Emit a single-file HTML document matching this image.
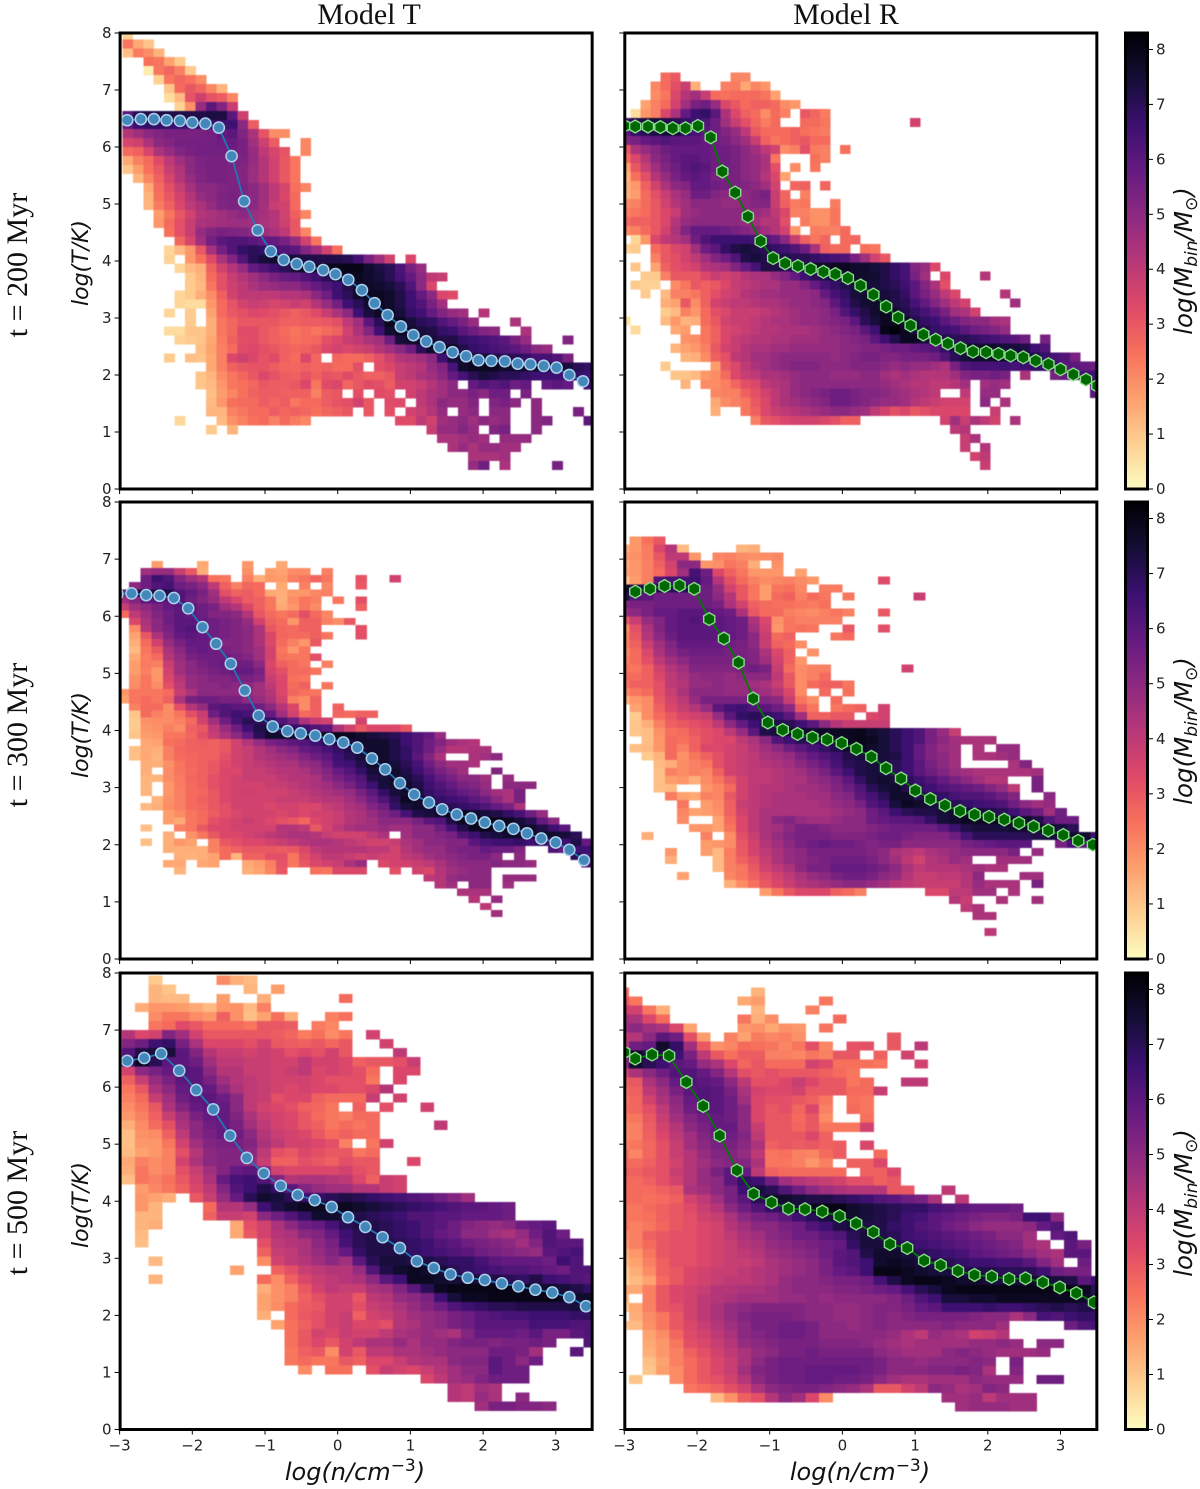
<!DOCTYPE html>
<html lang="en">
<head>
<meta charset="utf-8">
<title>Phase diagrams: Model T and Model R</title>
<style>
html,body{margin:0;padding:0;background:#fff;width:1200px;height:1489px;overflow:hidden}
svg{display:block}
.tick{font:15px "DejaVu Sans",sans-serif;fill:#222}
.serif{font-family:"Liberation Serif",serif;fill:#111}
.math{font-family:"DejaVu Sans",sans-serif;font-style:italic;fill:#111}
</style>
</head>
<body>
<svg id="fig" xmlns="http://www.w3.org/2000/svg" width="1200" height="1489" viewBox="0 0 1200 1489">
<defs>
<filter id="soft" x="-2%" y="-2%" width="104%" height="104%" color-interpolation-filters="sRGB"><feGaussianBlur stdDeviation="0.45"/></filter>
<linearGradient id="cbGrad" x1="0" y1="1" x2="0" y2="0">
<stop offset="0" stop-color="#fcfdbf"/><stop offset=".1" stop-color="#fecf92"/><stop offset=".2" stop-color="#fe9f6d"/><stop offset=".3" stop-color="#f7705c"/><stop offset=".4" stop-color="#de4968"/><stop offset=".5" stop-color="#b73779"/><stop offset=".6" stop-color="#8c2981"/><stop offset=".7" stop-color="#641a80"/><stop offset=".8" stop-color="#3b0f70"/><stop offset=".9" stop-color="#140e36"/><stop offset="1" stop-color="#000004"/>
</linearGradient>
</defs>
<text class="serif" x="369" y="24" font-size="30" text-anchor="middle">Model T</text>
<text class="serif" x="846" y="24" font-size="30" text-anchor="middle">Model R</text>
<text class="serif" transform="translate(27,265) rotate(-90)" font-size="30" text-anchor="middle">t = 200 Myr</text>
<text class="serif" transform="translate(27,735) rotate(-90)" font-size="30" text-anchor="middle">t = 300 Myr</text>
<text class="serif" transform="translate(27,1203) rotate(-90)" font-size="30" text-anchor="middle">t = 500 Myr</text>
<text class="math" transform="translate(88,263) rotate(-90)" font-size="22" text-anchor="middle">log(T/K)</text>
<text class="math" transform="translate(88,735) rotate(-90)" font-size="22" text-anchor="middle">log(T/K)</text>
<text class="math" transform="translate(88,1205) rotate(-90)" font-size="22" text-anchor="middle">log(T/K)</text>
<text class="math" x="355" y="1480" font-size="24" text-anchor="middle">log(n/cm<tspan dy="-9" font-size="17" font-style="normal">−3</tspan><tspan dy="9">)</tspan></text>
<text class="math" x="860" y="1480" font-size="24" text-anchor="middle">log(n/cm<tspan dy="-9" font-size="17" font-style="normal">−3</tspan><tspan dy="9">)</tspan></text>
<text class="math" transform="translate(1192,261) rotate(-90)" font-size="24.5" text-anchor="middle">log(M<tspan dy="5" font-size="17">bin</tspan><tspan dy="-5">/M</tspan><tspan dy="5" font-size="17" font-style="normal">⊙</tspan><tspan dy="-5">)</tspan></text>
<text class="math" transform="translate(1192,731) rotate(-90)" font-size="24.5" text-anchor="middle">log(M<tspan dy="5" font-size="17">bin</tspan><tspan dy="-5">/M</tspan><tspan dy="5" font-size="17" font-style="normal">⊙</tspan><tspan dy="-5">)</tspan></text>
<text class="math" transform="translate(1192,1203) rotate(-90)" font-size="24.5" text-anchor="middle">log(M<tspan dy="5" font-size="17">bin</tspan><tspan dy="-5">/M</tspan><tspan dy="5" font-size="17" font-style="normal">⊙</tspan><tspan dy="-5">)</tspan></text>
</svg>
<script>
const xTickLabels = [-3,-2,-1,0,1,2,3];
const yTickLabels = [0,1,2,3,4,5,6,7,8];
const cbTickLabels = [0,1,2,3,4,5,6,7,8];
const cbMax = 8.3;

// Heatmap rows, top to bottom: [first column index, cell values...]. Values are log(M) x 10; 0 = empty bin.
const heatT200 = [
[0,8],[0,24,15,10],[0,11,23,20,13],[2,25,24,16,9],[2,3,24,27,22,9],[3,8,24,27,25,20],[4,10,26,30,27,21,13],
[4,6,12,31,37,31,29,21],[5,8,19,48,60,52,38],[0,60,70,72,72,72,72,72,72,73,73,60,37],[0,58,66,68,68,67,66,66,67,67,66,66,50,29],
[0,42,46,50,52,54,54,54,54,55,58,60,52,44,31,20,20],[0,35,37,44,50,52,55,55,55,55,56,57,54,46,37,29,0,0,21],
[0,26,28,35,44,48,52,54,55,55,55,56,54,48,40,35,31,0,21],[0,15,22,26,33,40,46,50,53,54,54,53,53,48,42,36,30,24],
[0,10,17,25,30,38,43,50,53,54,54,53,52,47,42,36,30,24],[1,13,21,28,35,42,48,52,54,54,53,52,47,42,36,30,24],
[2,15,26,32,38,45,50,50,52,53,53,50,46,40,35,25,21],[2,13,25,30,36,42,48,50,53,54,53,50,46,40,34,26],
[2,13,23,28,34,40,44,48,52,53,52,50,45,38,36,26],[3,17,24,30,36,42,44,46,48,50,47,45,42,36,28,21],
[3,18,26,32,38,44,45,46,47,47,46,44,42,37,30],[4,25,32,38,48,52,54,53,52,50,47,44,40,30,21],
[5,27,35,46,55,60,62,62,60,58,58,54,48,36,24],[4,7,12,18,30,45,55,62,68,70,68,64,62,60,52,46,36,25],
[4,8,0,18,25,33,44,52,62,70,74,76,75,74,73,72,72,72,70,65,54,46,36,0,34],
[5,7,12,14,28,36,42,48,58,62,66,70,74,76,76,78,79,80,80,76,73,70,63,54,48],
[6,9,13,26,32,38,42,46,50,54,57,58,62,66,70,75,77,78,76,74,70,64,58,50,40,38],
[6,9,12,24,32,37,40,44,47,48,50,50,54,58,62,66,72,76,77,76,74,70,62,50,34],
[5,7,9,14,20,28,36,40,40,40,40,42,42,44,50,56,66,70,76,78,78,76,72,66,58,50,34,33],
[5,7,6,6,18,26,31,36,38,37,35,36,38,36,42,48,55,66,70,76,78,76,72,66,62,54,46],
[4,7,0,9,0,16,26,30,32,34,33,32,30,28,30,33,38,44,50,66,74,77,78,74,68,65,58,52,48,46,0,42],
[6,9,0,14,24,27,30,30,30,30,28,28,29,29,30,32,40,46,60,70,79,78,74,70,68,62,58,54,48,0,0,0,44],
[4,6,6,10,10,14,24,27,33,33,30,28,26,24,26,24,26,28,36,44,52,66,76,78,76,74,72,68,66,60,56,52,50,0,0,44],
[5,8,9,10,15,23,28,32,33,30,28,27,25,26,27,32,34,38,40,44,46,56,74,76,76,74,72,72,68,66,64,62,60,54,48,0,0,0,52],
[7,11,16,22,26,33,34,32,30,28,27,28,30,34,36,34,36,38,42,46,50,56,70,76,78,78,72,68,66,64,62,60,56,50,48],
[4,9,0,11,10,15,22,34,37,34,31,33,28,26,34,27,0,27,26,26,28,32,37,42,44,46,50,66,74,76,76,74,72,70,70,68,64,64,62,54],
[8,15,22,28,30,31,31,29,27,27,28,27,28,26,26,32,0,32,34,38,40,42,48,52,64,76,78,78,78,76,76,76,76,74,74,74,70,68],
[7,10,13,20,24,27,30,34,31,29,28,31,28,31,30,33,30,28,28,30,38,40,44,46,50,58,64,70,74,72,70,70,68,66,66,66,64,68,66],
[7,10,12,18,24,25,27,30,29,29,30,34,24,33,34,27,30,33,32,29,36,36,38,42,46,50,0,58,62,60,62,56,58,0,58,60,58,0,64],
[8,11,17,21,25,28,29,29,28,28,28,22,29,30,0,32,0,33,32,0,36,40,44,46,50,50,54,50,56,56,0,54],
[8,12,18,25,26,26,29,27,29,24,26,26,29,31,32,36,30,0,33,33,0,40,44,50,48,48,52,0,52,54,50,0,50],
[8,13,13,22,24,26,26,29,27,28,27,25,27,28,30,0,30,0,32,0,36,38,42,48,0,48,50,0,50,50,0,0,50,0,0,0,54],
[5,7,0,0,0,12,19,22,25,26,22,26,23,21,0,0,0,0,0,0,0,0,33,33,40,36,46,48,50,46,50,48,50,0,0,50,52,0,0,0,60],
[8,9,0,13,0,0,0,0,0,0,0,0,0,0,0,0,0,0,0,0,0,0,38,48,48,52,48,0,52,54,0,0,50],
[30,44,44,46,48,46,0,48,48,48],[31,44,48,44,48,48,46,46],[33,44,44,44,46],[33,48,56,0,44,0,0,0,0,54]
];
const heatR200 = [
[4,26,30,0,0,0,0,0,21,21],[3,21,26,32,38,14,0,0,22,23,15,21,18],[3,20,24,34,42,46,38,26,25,26,26,26,24,16],
[2,16,22,26,36,46,54,56,48,34,30,26,28,28,26,20,18],[1,6,18,22,34,44,58,66,68,60,44,34,28,26,20,26,22,0,30,27,23],
[0,66,72,73,74,72,70,68,66,62,56,46,38,32,27,23,26,0,0,26,26,24,0,0,0,0,0,0,0,0,36],
[0,60,68,70,72,74,74,68,64,60,56,52,48,40,30,26,26,26,28,25,24,23],[0,52,54,58,60,62,60,60,60,58,56,54,50,46,38,28,24,26,28,30,26,26],
[0,30,44,48,52,56,58,58,58,58,56,56,54,50,46,40,36,20,22,32,23,22,0,25],[0,26,34,42,50,54,58,60,60,58,56,56,54,50,48,44,24,0,0,0,25,22],
[0,16,30,38,46,52,56,60,62,60,56,56,54,50,48,44,32,0,20,0,24],[0,13,25,32,42,48,54,58,60,58,54,54,54,50,48,42,34,16],
[0,14,18,28,36,44,50,52,58,58,56,54,54,52,50,46,36,0,27,28,0,27],[0,14,17,26,32,38,44,48,56,56,52,50,50,50,52,54,38,27,0,22],
[0,20,22,26,30,36,42,46,50,50,50,48,48,50,52,52,38,28,23,24,0,0,23],[0,22,24,26,30,34,38,46,48,50,50,50,50,50,48,46,40,34,22,22,19,19,24],
[0,26,28,28,30,34,42,48,50,50,50,50,50,48,46,42,42,32,0,23,19,19,24],[0,20,22,26,30,36,44,52,58,58,58,56,54,52,50,46,42,36,18,0,23,22,22,26],
[1,7,18,34,40,42,46,56,62,66,66,66,66,64,62,58,50,38,28,24,27,0,26,27],[0,8,9,0,26,30,34,36,46,56,60,68,72,74,72,70,68,66,62,56,44,28,26,26,0,25,24],
[3,22,30,32,36,40,46,52,56,62,72,74,72,72,72,70,70,68,66,64,62,54,46,36,30],
[1,10,0,16,28,32,34,36,42,44,46,52,58,64,72,72,70,72,74,76,76,78,78,76,76,74,72,68,64,52,48,34],
[2,9,9,22,30,30,30,34,38,36,38,42,44,44,48,52,58,66,70,72,74,74,76,76,75,72,68,64,54,46,0,34,0,0,0,42],
[1,9,8,8,0,20,24,30,28,30,34,38,40,42,44,44,48,48,52,58,64,68,72,74,74,74,72,70,66,60,52,44,32],
[2,9,0,12,22,22,24,28,32,36,38,42,44,46,46,48,48,48,50,58,64,68,74,75,76,74,72,68,60,54,48,40,34,0,0,0,0,42],
[4,14,16,30,20,28,36,38,40,40,42,44,44,46,48,48,50,52,60,66,72,75,76,76,72,70,64,58,52,46,40,36,0,0,0,0,46],
[4,9,12,22,18,26,32,34,38,38,38,40,42,44,46,48,48,50,54,62,68,72,76,78,76,72,68,64,60,54,46,44,36],
[0,5,0,0,0,12,18,13,14,26,30,36,38,38,40,42,44,44,46,48,48,50,52,54,60,70,74,78,78,76,72,68,66,60,56,52,50,50,46,44],
[1,6,0,0,0,15,17,0,24,28,34,36,38,40,42,42,44,44,44,46,48,50,52,54,60,66,80,82,78,74,72,68,66,64,60,56,54,52,48],
[6,19,20,24,28,34,38,40,42,42,44,44,46,46,46,48,48,50,52,54,60,66,72,78,78,74,74,72,70,70,68,66,64,62,60,56,0,54],
[5,13,16,18,22,30,36,38,42,44,44,46,46,48,48,48,48,48,50,50,52,52,54,56,56,58,60,62,68,72,74,76,76,76,74,74,72,66,62],
[6,13,14,20,28,32,40,42,46,46,48,50,50,50,50,50,48,50,52,54,54,52,52,54,54,54,56,62,70,74,76,76,76,76,76,74,72,68,64,62,54],
[4,9,0,0,0,0,17,30,34,40,44,46,48,50,52,52,52,50,50,50,52,52,52,50,48,50,48,48,46,44,54,62,64,64,64,66,64,66,68,66,64,60,60,58,56],
[5,10,10,12,18,20,26,34,38,40,44,44,46,48,50,50,50,48,48,48,50,50,46,44,46,44,42,42,42,46,52,54,54,56,54,0,44,0,0,54,58,62,64,66],
[6,13,0,20,20,22,27,32,34,40,42,44,48,50,50,50,50,50,50,50,50,48,46,44,42,42,40,40,42,46,0,46,48,46,0,0,0,0,0,0,0,0,64],
[9,21,22,22,28,32,36,40,44,48,50,52,54,56,56,54,52,52,50,48,46,44,42,40,0,0,40,0,48,48,0,0,0,0,0,0,0,0,0,60],
[9,15,20,22,24,30,34,40,44,46,48,50,52,56,56,54,52,50,48,48,46,42,40,38,36,36,36,0,50,0,44],
[9,14,0,0,24,28,34,38,40,42,44,46,48,50,50,48,46,40,36,32,34,30,32,34,34,34,34,0,0,38],
[13,22,30,32,34,36,36,36,34,32,28,28,0,0,0,0,0,0,0,0,36,46,38,44,40,36,0,44],
[33,40,42],[34,38,44],[34,38,0,42],[35,36,40],[36,38]
];
const heatT300 = [
[3,17,0,0,0,15,0,0,0,18,0,0,15],[2,46,48,48,38,30,14,0,0,0,19,0,17,16,20,20,0,22],
[2,56,66,62,52,46,42,25,24,0,22,14,18,17,22,24,27,24,0,0,31,0,0,36],[1,50,56,62,64,56,54,50,40,28,22,27,26,0,15,0,22,0,21,0,0,30],
[0,58,72,74,74,72,62,58,54,46,32,28,29,26,15,14,18,18,21,22],[0,46,52,60,60,60,62,56,52,48,40,34,29,28,24,14,20,24,22,0,24,0,32],
[0,38,46,50,54,58,60,60,56,54,46,42,34,28,24,15,18,24,20,0,0,0,28],[0,26,40,46,52,56,60,58,56,52,52,50,42,30,26,24,26,32,26,21],
[1,34,44,50,56,60,60,58,56,54,52,48,36,28,26,18,28,28,22,20,30],[1,20,42,50,54,60,62,58,56,54,52,50,44,30,27,26,28,28,0,0,0,32],
[1,16,30,44,52,58,60,58,56,54,52,50,44,34,27,26,26,28,24,0,0,32],[1,14,26,36,48,54,58,58,56,52,52,50,44,34,26,22,18,30],
[1,12,24,30,44,50,56,58,56,54,52,50,46,36,24,18,24],[1,15,23,26,42,48,54,56,56,56,54,52,46,36,25,24,24,32],
[1,17,23,22,38,46,50,54,56,58,56,56,50,34,28,26,24,0,22],[1,17,22,18,36,46,50,52,54,56,58,58,54,36,32,26,26,24],
[1,19,24,18,34,42,48,50,52,52,54,54,52,38,34,25,24],[1,20,24,20,32,40,48,50,50,52,50,50,46,40,34,26,28,0,24],
[0,18,24,24,24,26,38,44,50,50,50,50,48,46,42,34,27,25,24],[0,16,24,26,24,28,44,54,56,56,54,54,50,48,44,36,22,20,28],
[1,22,26,26,20,32,42,48,60,62,60,60,56,50,42,34,20,28,0,28],[1,10,26,22,20,24,32,38,56,62,66,64,62,58,46,36,26,28,0,27,26,28,28],
[1,9,19,20,20,22,26,36,46,56,64,70,70,68,62,56,44,38,36,0,0,36],[1,9,18,19,22,20,28,30,40,48,56,66,72,74,70,68,66,62,60,44,36,30,34,34,34,30],
[1,10,17,18,24,24,27,32,38,44,50,58,70,76,76,76,76,78,78,78,78,76,74,72,70,66,62,58,48],
[2,15,16,25,26,28,29,28,30,36,42,48,54,56,60,62,66,70,72,74,76,76,76,72,66,62,56,52,46,44,42],
[1,11,15,14,22,27,28,28,28,30,36,38,42,46,50,52,58,60,64,68,72,74,76,76,72,68,62,56,48,42,42,44,44],
[1,11,15,13,22,26,27,28,28,32,36,38,42,44,46,48,52,56,60,66,70,74,76,76,72,68,60,52,44,0,0,44,46,50],
[2,14,14,19,24,27,28,30,33,36,38,40,42,44,44,48,50,56,64,66,72,76,76,74,70,64,56,50,46,46,44],
[2,14,0,20,24,26,28,30,34,34,38,38,40,42,42,44,48,52,58,62,68,74,76,76,72,66,60,54,50,46,0,0,52],
[2,13,13,20,23,27,28,32,34,36,38,38,38,40,42,42,44,50,54,58,62,72,74,76,74,70,64,58,54,50,50,46,0,48],
[2,13,0,18,23,26,28,32,34,36,36,36,38,38,40,42,44,46,50,54,60,66,74,76,76,72,66,62,58,54,52,48,0,50,50,50],
[2,13,0,18,22,26,27,30,34,36,37,36,36,36,38,40,42,44,46,48,54,60,68,74,76,74,68,64,62,58,56,50,46,44,54],
[3,13,19,22,26,28,30,34,36,36,36,36,38,38,38,40,42,42,46,50,56,62,70,78,76,72,68,66,64,60,56,50,44,54],
[2,12,14,20,22,26,27,30,32,36,36,36,34,36,36,34,34,38,40,44,46,52,56,68,74,76,74,72,70,68,66,62,58,54,44],
[4,17,20,24,26,29,32,34,36,36,36,34,36,34,36,36,38,42,44,48,52,56,64,72,74,76,78,78,76,74,72,68,64,56,48],
[4,17,15,24,26,32,34,36,38,36,34,32,30,27,34,36,38,42,44,46,50,50,50,54,60,62,72,78,80,80,80,78,74,70,58,50],
[2,11,0,0,22,24,30,34,34,36,36,36,36,42,42,40,30,36,40,44,46,46,48,46,46,50,50,56,64,72,78,80,78,78,76,76,72,66,60],
[4,14,0,19,24,30,34,34,36,38,40,42,44,44,42,38,36,36,36,40,44,0,46,50,50,52,54,62,66,72,74,76,76,76,76,76,74,70],
[2,11,0,14,18,16,0,22,30,32,34,34,36,38,40,42,44,44,42,40,38,36,36,38,44,46,50,50,52,52,60,64,66,66,68,66,68,66,66,72,58],
[4,14,14,14,14,22,26,28,30,30,30,29,30,34,40,42,42,42,42,40,40,36,42,46,48,48,52,54,54,58,56,56,52,0,0,62,58,66,66],
[5,14,13,14,16,26,13,28,28,32,32,24,32,36,40,40,38,36,38,36,36,40,42,46,48,50,52,54,54,50,0,50,0,0,0,0,70,64],
[4,15,15,0,15,16,0,0,15,17,22,31,24,30,34,36,38,44,48,0,34,36,36,38,40,44,48,50,50,50,52,50,50,48,0,0,0,0,62],
[5,13,0,0,0,0,0,14,16,21,30,0,0,25,24,34,34,34,0,0,32,0,36,34,42,46,48,50,50],
[27,40,42,48,50,50,50,0,48,48,48],[28,42,46,0,50,50,0,46],[30,44,44,44],[31,42,0,48],[32,40],[33,46]
];
const heatR300 = [
[1,18,25,30],[0,14,18,23,34,42,12,0,0,0,0,13,14],[0,17,19,23,30,40,40,18,0,21,22,20,19,20,21],[0,15,18,22,28,36,50,50,18,19,24,22,14,0,19],
[0,16,18,22,26,34,46,64,56,34,28,24,18,18,18,0,16],[0,10,17,22,62,64,64,66,58,42,32,26,22,20,21,22,20,18,0,0,0,0,0,33],
[0,76,72,72,72,70,70,62,56,48,36,30,24,17,24,25,21,0,23,23],[0,72,62,60,56,56,56,56,56,50,42,30,24,17,26,28,22,26,24,0,24,0,0,0,0,0,38],
[0,52,54,54,56,56,56,56,56,54,44,36,28,26,25,25,24,23,25],[0,48,50,54,58,58,60,60,60,58,56,44,30,26,26,22,21,20,22,24,22,0,0,30],
[0,30,38,48,52,58,60,62,60,60,58,56,44,34,19,24,22,22,22,22],[0,20,32,44,52,58,60,60,60,60,58,56,46,36,18,24,25,24,0,0,30,0,0,32],
[0,22,30,42,50,56,60,60,60,60,58,56,50,38,26,28,0,0,0,24,26],[0,22,28,38,46,52,58,58,58,58,56,54,50,38,28,26,20],
[0,20,26,34,44,50,54,56,56,56,54,54,52,44,34,28,0,19],[0,22,26,32,40,46,50,54,54,54,54,54,52,46,36,28,18],
[0,24,24,28,36,42,46,52,52,52,52,54,56,54,38,26,20,22,22,0,0,0,0,0,0,36],[0,26,26,28,34,40,44,48,50,50,48,50,50,50,40,30,20,22,26],
[0,24,28,28,32,40,42,48,48,50,48,48,46,44,38,30,20,26,28,28,24],[0,20,24,26,32,38,44,50,50,50,48,48,48,46,42,34,20,0,26,0,25],
[0,13,18,20,30,36,40,48,54,54,54,54,54,52,50,38,24,20,0,26],[1,16,20,28,34,38,42,48,60,64,66,62,60,56,50,30,24,0,24,26,28,0,36],
[1,9,20,26,30,34,36,38,48,60,68,70,68,66,60,46,28,28,30,30,0,34,36],[1,10,14,22,28,30,32,34,40,50,58,66,70,72,70,66,60,50,42,38,38,38,38],
[1,10,11,19,25,26,30,32,34,40,48,60,72,74,76,76,76,77,78,78,79,76,74,70,66,62,54,48,38],
[2,11,18,26,25,28,32,34,34,40,44,50,62,66,70,72,74,76,78,80,78,74,70,66,62,54,50,46,44,44,44],
[1,11,12,18,26,22,28,34,34,36,38,42,46,50,56,60,64,68,72,76,78,76,74,70,66,58,52,48,46,0,44,0,48,48],
[2,9,13,26,19,24,28,32,36,38,40,44,46,48,54,58,62,66,72,74,76,74,72,66,58,52,50,46,0,44,44,46,48],
[3,12,14,20,22,24,32,36,38,40,42,44,46,50,54,58,64,70,72,74,74,70,66,60,54,50,46,0,0,0,0,44,52],
[3,11,22,20,22,21,28,36,38,40,40,42,44,46,50,54,60,66,72,74,74,70,66,60,56,52,48,46,44,44,44,44,44,46],
[3,11,17,18,14,20,24,30,36,40,40,42,44,44,48,50,54,60,68,74,76,74,70,66,62,58,54,50,46,42,42,0,0,54],
[3,11,12,0,0,18,21,26,36,40,42,42,44,46,46,48,52,56,62,70,74,76,72,68,66,62,60,58,56,52,48,40,0,54],
[4,23,16,15,22,21,30,36,40,42,44,44,44,46,46,50,52,60,64,70,76,76,72,70,68,64,62,62,60,56,52,0,0,50],
[5,24,0,17,20,28,38,40,42,44,44,44,44,46,48,50,54,62,66,74,78,76,74,72,70,68,66,64,62,56,50,46,48],
[5,21,16,17,19,28,36,40,44,44,44,44,44,44,46,48,50,56,60,66,70,72,72,74,76,76,74,72,70,66,60,56,46,56],
[5,20,0,0,16,26,34,40,44,50,52,48,46,46,48,50,50,56,58,60,60,62,68,74,76,78,78,78,78,76,76,72,62,56,56],
[6,18,18,16,24,34,40,44,46,50,54,54,52,50,50,50,52,54,56,56,56,56,60,66,72,74,74,74,76,76,76,76,74,70],
[2,14,0,0,0,0,22,0,20,32,38,44,48,52,54,54,54,52,52,52,54,56,56,54,52,52,52,56,64,70,70,70,70,70,72,74,74,76,76,66],
[7,17,18,20,30,36,42,46,50,54,56,58,56,56,54,52,54,54,50,50,50,50,50,54,56,58,60,60,60,0,0,54,64,60,66],
[4,18,0,0,17,12,23,30,36,40,44,48,50,54,54,54,54,54,52,50,44,42,40,44,46,48,50,50,50,50,54,0,48],
[4,14,0,0,0,12,22,28,32,38,44,48,50,52,54,56,56,56,54,50,46,40,36,42,44,48,46,0,0,46,46,46],
[8,12,22,24,30,36,40,44,50,54,54,58,58,58,56,54,50,44,40,42,42,42,44,46,44,44],
[5,16,0,0,0,21,24,28,32,36,40,44,48,50,54,56,56,54,50,48,42,38,38,40,40,42,50,0,0,0,46,46],
[9,14,20,25,30,34,38,42,44,46,48,50,50,48,46,42,40,38,38,38,38,42,48,44,44,44,0,54],
[12,17,24,30,34,34,34,28,26,22,0,0,0,0,0,34,34,40,40,46,46,0,44],[28,42,38,0,0,44,0,0,46],[29,40,44],[30,44,44],[],[31,40]
];
const heatT500 = [
[2,9,0,0,0,0,20,14,12],[2,13,10,0,0,0,0,0,13,0,17],[2,13,12,12,0,0,17,0,0,14,0,0,0,0,0,26],[1,14,18,18,17,15,12,18,19,12,22],
[2,20,24,24,20,18,28,19,11,16,25,14,0,0,22,25],[2,24,26,33,30,26,26,26,24,30,30,29,0,23,21],[0,42,34,36,52,46,36,30,30,30,30,30,29,27,23,25,20,24,0,36],
[0,52,56,66,68,54,44,34,34,34,32,36,30,29,28,30,27,30,0,0,36],[0,62,72,74,74,60,52,42,38,38,36,38,36,32,34,32,36,30,0,0,0,40],
[0,68,78,70,60,60,56,46,40,40,38,38,36,36,40,36,36,34,28,30,30,32,38],[0,36,50,54,58,62,60,50,42,42,38,38,36,38,40,34,36,34,32,26,0,34,34],
[0,28,38,48,54,60,60,54,46,42,40,38,36,36,36,34,32,32,32,24,0,34],[0,24,30,44,50,58,60,58,50,44,40,38,36,34,36,34,34,32,32,34,42],
[0,22,26,38,46,56,60,60,56,50,40,38,32,34,34,28,26,26,26,38,0,36],[0,20,24,30,44,52,58,60,58,50,40,36,34,32,28,27,24,0,28,0,32,0,0,36],
[0,18,22,28,38,46,54,58,58,52,44,38,36,34,30,26,24,22,26,26],[0,14,20,26,32,44,50,56,58,54,46,40,36,34,30,28,24,26,24,26,0,0,0,0,40],
[0,11,19,20,28,40,50,54,58,56,50,42,38,36,34,30,26,28,26,26],[0,11,18,18,24,36,46,52,54,54,52,44,40,36,36,34,32,22,0,24,36],
[0,12,16,18,22,32,42,50,52,52,50,40,32,30,34,32,30,30,24,26],[0,15,22,20,22,36,44,50,52,52,48,38,28,28,32,30,28,32,30,30,0,0,34],
[0,14,24,20,22,32,38,46,52,58,60,50,36,34,34,34,34,36,32,30],[0,11,24,22,25,30,36,44,58,64,66,62,52,42,44,44,42,40,34,28,38,36],
[1,17,21,24,28,34,40,52,62,66,72,68,60,52,48,46,46,42,42,38,36],[1,18,16,14,0,30,38,48,58,70,76,74,70,66,68,70,72,70,68,66,64,62,60,56,52,46],
[1,18,13,0,0,0,26,42,42,48,66,72,76,78,78,78,78,76,74,72,70,68,66,64,62,60,60,58,56],
[1,13,13,0,0,0,28,38,38,36,50,56,62,68,76,76,74,72,70,68,66,62,62,60,60,58,58,58,56],
[1,13,14,0,0,0,0,0,15,32,36,44,50,56,58,64,70,72,72,70,68,66,62,60,56,52,50,48,50,56,58,60],
[1,12,0,0,0,0,0,0,15,30,36,42,44,50,52,58,66,70,72,70,68,66,62,58,56,50,50,46,44,48,56,62,56],
[1,11,0,0,0,0,0,0,0,0,32,40,42,44,50,54,64,70,72,72,70,68,66,62,60,56,54,52,50,46,52,62,60,60],
[10,28,38,40,44,48,52,58,68,72,72,72,68,66,64,62,60,56,54,52,50,48,60,62,64],
[2,12,0,0,0,0,0,0,0,20,36,40,42,46,50,46,60,70,74,74,72,72,70,68,68,64,60,58,58,58,56,66,62],
[8,16,0,0,28,32,38,40,42,42,48,62,72,76,78,76,74,70,68,66,64,62,62,60,58,56,62,62],
[2,13,0,0,0,0,0,0,0,26,20,28,34,38,40,42,44,50,60,66,78,78,76,74,76,74,72,70,68,72,66,64,62,60],
[10,14,19,22,30,36,40,38,38,44,46,52,60,70,78,80,80,80,80,80,78,76,76,74,72,68],
[10,16,19,22,28,32,36,36,30,40,42,48,50,54,66,74,78,78,80,80,80,80,80,78,76,76],
[10,16,20,26,29,30,36,36,32,38,40,44,48,52,56,62,66,68,70,70,72,72,72,72,74,74],
[10,14,0,26,30,32,36,38,28,36,38,42,46,48,50,54,56,60,62,64,64,66,66,66,68,68],
[11,16,25,28,32,36,38,34,34,32,42,44,48,50,54,56,60,60,60,60,64,64,64,62,62],
[12,25,30,36,34,38,36,36,40,44,46,48,46,44,52,58,58,58,56,60,54,54,60,62],
[12,25,30,34,30,36,40,44,44,48,44,48,48,52,54,54,52,54,54,56,54,0,0,62],
[12,24,28,30,20,36,30,40,40,44,44,46,48,50,50,50,56,56,54,46,0,0,60],
[12,24,26,24,24,30,28,34,34,38,42,44,44,50,52,52,60,56,50,56],
[13,20,0,25,25,0,32,38,36,34,38,42,46,50,50,60,56,56],
[22,34,40,46,48,52,56,56,56],[24,42,40,46,44],[24,42,40,48,44,0,50],[26,46,54,54,52,52,50]
];
const heatR500 = [
[0,26,0,0,0,0,0,0,0,0,0,13],[0,30,24,0,0,0,0,0,0,0,15,17,0,0,0,0,24],[0,38,36,24,14,0,0,0,0,0,0,13,0,0,0,22],
[0,46,44,34,26,0,0,0,0,0,24,14,20,0,0,0,0,26],[0,48,50,46,44,34,16,0,0,0,18,19,15,19,18,0,24],
[0,40,42,50,60,56,32,17,0,22,16,23,21,22,19,0,0,0,0,0,0,30],[0,42,56,58,76,68,46,30,19,21,26,25,24,21,24,32,21,0,31,32,0,30,0,40],
[0,50,78,72,72,66,54,40,30,25,29,29,22,22,21,24,22,30,30,0,28,0,36],[0,50,76,70,66,60,58,48,44,34,27,30,26,26,26,36,33,25,25,25,24,0,0,36],
[0,36,44,50,56,62,62,58,52,42,32,30,32,30,30,30,28,26,24],[0,28,30,44,50,58,62,60,58,50,40,32,32,34,38,34,30,30,24,26,0,0,40,40],
[0,26,28,40,46,54,60,62,60,54,44,36,34,34,36,30,30,30,26,26,38],[0,24,27,36,44,50,58,62,60,56,46,34,32,32,30,28,24,0,25,24],
[0,25,27,32,40,48,56,60,60,56,50,34,30,32,27,34,22,0,26,24],[0,22,24,30,38,46,52,56,58,56,50,34,30,30,26,30,20,0,0,25],
[0,20,22,29,36,42,50,54,58,58,50,38,30,30,27,30,24,24,24,36],[0,20,22,28,34,40,46,52,56,56,52,40,30,30,30,34,28],
[0,22,24,27,32,38,46,50,54,54,50,44,28,30,29,30,28,29,0,34],[0,25,21,27,32,38,42,48,52,52,48,40,24,25,22,21,26,29,0,0,26],
[0,26,26,28,32,36,42,46,50,52,52,44,24,24,22,18,22,0,28,28,34],[0,28,28,30,32,38,42,48,54,60,58,40,28,26,26,26,26,26,0,28,28,34],
[0,26,26,28,32,36,42,48,50,60,68,66,56,46,42,40,38,36,32,32,28,30],[0,26,26,26,28,30,44,46,50,54,66,74,70,62,56,50,46,44,42,42,42,30,30,0,0,40],
[0,26,26,25,26,28,36,40,46,54,60,70,76,76,74,72,72,70,68,66,62,60,56,54,44,0,40],
[0,24,24,26,28,30,33,38,42,50,56,62,68,70,74,78,80,80,76,74,72,70,68,68,64,62,60,58,58,58,56],
[0,24,24,25,28,30,32,36,38,44,50,54,56,60,66,70,74,76,76,74,72,70,66,64,60,58,56,54,52,52,54,66,66,50],
[0,24,22,24,27,30,32,34,36,42,46,50,50,54,56,62,66,72,74,72,72,68,66,62,60,56,54,50,48,48,48,50,58,62],
[0,20,22,28,30,32,32,34,36,40,44,46,50,52,56,56,60,62,70,74,72,70,66,64,62,60,58,56,54,50,50,46,0,58,62],
[0,18,22,26,30,32,32,34,36,38,42,44,48,50,52,54,56,58,68,74,74,72,68,66,64,62,60,58,56,54,52,46,44,0,60,54],
[0,14,18,24,30,32,32,34,36,38,40,42,46,48,50,52,56,60,62,72,76,76,74,70,68,66,64,60,58,56,54,50,46,44,60,60],
[0,12,16,22,28,32,32,34,36,38,38,40,44,46,48,50,54,60,62,66,76,78,76,74,72,70,68,66,66,64,64,60,52,46,0,56],
[0,8,14,20,28,30,34,36,38,38,40,42,44,46,48,50,54,58,60,66,80,80,78,76,74,74,72,72,72,70,70,70,66,56,54,54],
[0,8,12,16,26,30,34,36,38,40,40,42,44,48,50,50,52,54,54,56,64,72,78,80,80,78,76,76,74,74,74,76,76,74,72,60,66],
[0,15,15,22,30,34,36,38,42,42,44,44,46,48,50,50,50,52,52,54,56,58,64,70,74,78,80,80,80,80,80,80,80,80,80,78,70],
[0,13,0,22,30,34,36,40,42,44,46,46,46,48,48,50,48,50,50,50,50,52,56,62,66,74,74,76,76,78,78,78,78,78,78,76,74],
[0,9,15,22,30,32,36,40,44,48,50,52,52,52,52,50,50,48,48,50,52,52,54,58,60,66,66,66,68,66,66,68,70,72,70,72,72],
[1,14,20,24,30,36,40,44,48,52,54,54,54,52,50,50,48,48,50,52,50,52,54,54,54,54,52,50,50,44,50,64,62,66,68,68],
[0,10,12,19,24,30,34,38,42,46,50,54,54,56,56,54,50,50,48,50,52,50,50,50,50,52,50,50,50,46,0,0,0,0,56,62,64],
[2,16,20,27,33,36,40,44,50,52,54,56,56,54,50,50,50,50,50,48,44,40,48,46,44,36,38,42],
[2,15,18,24,32,34,38,42,48,50,52,54,54,54,52,52,52,50,48,46,44,46,46,46,46,48,48,50,48,0,50,50],
[2,14,18,22,28,32,36,40,44,48,50,54,54,56,54,54,54,54,50,48,46,46,46,50,52,50,48,46,46,46,48],
[2,11,16,22,26,30,34,38,44,50,54,56,56,56,56,56,56,56,54,50,50,48,50,50,50,52,50,0,54],
[2,10,17,20,26,30,34,38,46,52,54,56,56,58,58,58,58,56,54,50,50,50,52,52,54,52,44,0,52],
[1,10,0,0,20,26,30,32,36,42,50,54,56,56,58,58,56,56,54,50,46,44,44,46,46,46,50,48,48,48,0,56,56],
[5,24,26,28,32,36,44,50,52,54,54,52,50,48,44,30,30,36,40,50,48,44,46,52,50],
[7,12,19,28,32,42,50,46,34,20,0,0,0,0,0,0,0,0,46,46,48,40,46,46,46],
[25,46,48,48,48,46,46]
];

// Mass-weighted median line: log(n) and log(T) per panel.
const nT200 = [-2.895,-2.707,-2.528,-2.354,-2.171,-2.0,-1.82,-1.635,-1.46,-1.287,-1.10,-.92,-.743,-.564,-.39,-.20,-.03,.146,.333,.507,.686,.869,1.04,1.217,1.40,1.58,1.766,1.936,2.114,2.30,2.476,2.65,2.833,3.01,3.186,3.374];
const tT200 = [6.47,6.49,6.49,6.47,6.46,6.43,6.41,6.34,5.84,5.05,4.54,4.17,4.02,3.95,3.90,3.84,3.77,3.67,3.49,3.26,3.05,2.85,2.70,2.59,2.49,2.40,2.33,2.26,2.25,2.24,2.20,2.19,2.16,2.13,2.00,1.89];
const nR200 = [-3.0,-2.85,-2.674,-2.504,-2.333,-2.158,-1.987,-1.811,-1.651,-1.475,-1.30,-1.124,-.953,-.788,-.612,-.437,-.261,-.096,.075,.25,.426,.602,.767,.938,1.114,1.284,1.45,1.625,1.796,1.977,2.147,2.313,2.488,2.659,2.835,3.0,3.176,3.351,3.506];
const tR200 = [6.37,6.36,6.36,6.35,6.33,6.33,6.37,6.17,5.57,5.20,4.78,4.35,4.05,3.96,3.91,3.86,3.81,3.77,3.70,3.57,3.41,3.20,3.01,2.87,2.71,2.62,2.55,2.47,2.41,2.40,2.37,2.34,2.31,2.25,2.19,2.10,2.01,1.92,1.81];
const nT300 = [-3.03,-2.835,-2.634,-2.45,-2.254,-2.057,-1.86,-1.672,-1.471,-1.278,-1.086,-.894,-.692,-.509,-.308,-.115,.077,.269,.471,.654,.855,1.052,1.254,1.437,1.638,1.835,2.023,2.22,2.417,2.604,2.801,2.998,3.186,3.387];
const tT300 = [6.39,6.40,6.37,6.36,6.32,6.14,5.81,5.52,5.17,4.70,4.26,4.07,3.99,3.95,3.91,3.85,3.79,3.70,3.51,3.32,3.08,2.88,2.74,2.62,2.53,2.46,2.39,2.33,2.28,2.20,2.11,2.04,1.91,1.73];
const nR300 = [-2.849,-2.647,-2.446,-2.24,-2.038,-1.832,-1.63,-1.429,-1.227,-1.026,-.82,-.618,-.412,-.21,-.009,.193,.399,.6,.807,1.004,1.21,1.411,1.617,1.819,2.016,2.227,2.428,2.63,2.831,3.038,3.244,3.446];
const tR300 = [6.43,6.48,6.53,6.54,6.48,5.95,5.61,5.19,4.56,4.14,4.01,3.94,3.88,3.84,3.78,3.68,3.54,3.34,3.16,2.95,2.80,2.69,2.59,2.53,2.49,2.44,2.38,2.32,2.25,2.17,2.07,2.00];
const nT500 = [-2.895,-2.661,-2.428,-2.18,-1.947,-1.713,-1.48,-1.251,-1.017,-.784,-.55,-.317,-.083,.141,.379,.617,.855,1.089,1.322,1.551,1.789,2.023,2.257,2.486,2.719,2.952,3.186,3.415];
const tT500 = [6.46,6.51,6.59,6.29,5.95,5.61,5.15,4.76,4.49,4.27,4.11,4.02,3.90,3.72,3.55,3.37,3.18,2.95,2.83,2.72,2.66,2.62,2.56,2.51,2.45,2.40,2.32,2.16];
const nR500 = [-3,-2.85,-2.618,-2.385,-2.147,-1.915,-1.687,-1.45,-1.222,-.974,-.742,-.514,-.277,-.039,.189,.426,.654,.891,1.124,1.351,1.589,1.817,2.054,2.292,2.519,2.757,2.99,3.217,3.46];
const tR500 = [6.61,6.50,6.57,6.55,6.09,5.67,5.15,4.54,4.13,3.98,3.87,3.86,3.82,3.74,3.61,3.46,3.25,3.18,2.96,2.88,2.78,2.71,2.68,2.64,2.65,2.58,2.49,2.39,2.23];

// Bin edges of each histogram (dex).
const binsT200 = {n0:-2.963,dn:.1442,t0:8.047,dt:.1574};
const binsR200 = {n0:-3.055,dn:.1375,t0:7.304,dt:.1584};
const binsT300 = {n0:-3.027,dn:.1557,t0:6.970,dt:.1247};
const binsR300 = {n0:-3.089,dn:.1626,t0:7.396,dt:.1398};
const binsT500 = {n0:-2.977,dn:.187,t0:7.953,dt:.1588};
const binsR500 = {n0:-3.124,dn:.187,t0:7.749,dt:.158};

const NS = 'http://www.w3.org/2000/svg';
const svg = document.getElementById('fig');
const defs = svg.querySelector('defs');
const magma = ['#fcfdbf','#fecf92','#fe9f6d','#f7705c','#de4968','#b73779','#8c2981','#641a80','#3b0f70','#140e36','#000004'];
const rgb = h => [1,3,5].map(i => parseInt(h.substr(i,2),16));
function color(v){
  const f = Math.max(0,Math.min(1,v/cbMax))*10, i = Math.min(9,Math.floor(f)), a = rgb(magma[i]), b = rgb(magma[i+1]), t = f-i;
  return 'rgb('+a.map((c,k)=>Math.round(c+(b[k]-c)*t)).join(',')+')';
}
function mk(tag,attrs,parent){
  const el = document.createElementNS(NS,tag);
  for(const k in attrs) el.setAttribute(k,attrs[k]);
  (parent||svg).appendChild(el);
  return el;
}
const columns = [{left:119.6,kind:'t'},{left:624.3,kind:'r'}];
const rows = [{bottom:489,top:33,tag:'200'},{bottom:959,top:502,tag:'300'},{bottom:1429.5,top:973,tag:'500'}];
const unitX = 72.7;

function drawPanel(col,row,heat,bins,nLine,tLine,showXLabels,showYLabels){
  const name = (col.kind==='t'?'model-t-':'model-r-')+row.tag;
  const unitY = (row.bottom-row.top)/8;
  const X = n => col.left+unitX*(n+3);
  const Y = t => row.bottom-unitY*t;
  const clipId = 'clip-'+name;
  const cp = mk('clipPath',{id:clipId},defs);
  mk('rect',{x:X(-3),y:row.top,width:unitX*6.5,height:row.bottom-row.top},cp);
  const panel = mk('g',{'clip-path':'url(#'+clipId+')'});
  
  
  const cells = mk('g',{filter:'url(#soft)','shape-rendering':'crispEdges'},panel);
  
  
  heat.forEach((r,i)=>{
    for(let k=1;k<r.length;k++){
      if(!r[k]) continue;
      const j = r[0]+k-1;
      const rect = mk('rect',{x:X(bins.n0+bins.dn*j).toFixed(2),y:Y(bins.t0-bins.dt*i).toFixed(2),width:(bins.dn*unitX+.2).toFixed(2),height:(bins.dt*unitY+.2).toFixed(2),fill:color(r[k]/10)},cells);
      
      
    }
  });
  const pts = nLine.map((n,i)=>[X(n),Y(tLine[i])]);
  const line = mk('polyline',{points:pts.map(p=>p[0].toFixed(1)+','+p[1].toFixed(1)).join(' '),fill:'none',stroke:col.kind==='t'?'#1f77b4':'#007a00','stroke-width':1.8},panel);
  
  
  pts.forEach(p=>{
    let m;
    if(col.kind==='t'){
      m = mk('circle',{cx:p[0].toFixed(1),cy:p[1].toFixed(1),r:5.6,fill:'#4488bb',stroke:'#aed0e8','stroke-width':1.5},panel);
    }else{
      const hex=[];
      for(let a=0;a<6;a++){const th=Math.PI/3*a+Math.PI/6;hex.push((p[0]+6.4*Math.cos(th)).toFixed(1)+','+(p[1]+6.4*Math.sin(th)).toFixed(1));}
      m = mk('polygon',{points:hex.join(' '),fill:'#006800',stroke:'#8edc8e','stroke-width':1.4},panel);
    }
    
    
  });
  const frame = mk('rect',{x:X(-3)+.5,y:row.top,width:unitX*6.5-.5,height:row.bottom-row.top,fill:'none',stroke:'#000','stroke-width':3});
  
  
  xTickLabels.forEach(v=>{
    const t = mk('line',{x1:X(v),x2:X(v),y1:row.bottom+1,y2:row.bottom+5,stroke:'#000','stroke-width':1});
    
    
    if(showXLabels){
      const l = mk('text',{x:X(v),y:row.bottom+21,'text-anchor':'middle',class:'tick'});
      l.textContent = String(v).replace('-','\u2212');
      
      
    }
  });
  yTickLabels.forEach(v=>{
    const t = mk('line',{x1:X(-3)-5,x2:X(-3)-1,y1:Y(v),y2:Y(v),stroke:'#000','stroke-width':1});
    
    
    if(showYLabels){
      const l = mk('text',{x:X(-3)-8,y:Y(v)+5,'text-anchor':'end',class:'tick'});
      l.textContent = String(v);
      
      
    }
  });
}
function drawColorbar(row){
  const h = row.bottom-row.top;
  const bar = mk('rect',{x:1125.5,y:row.top,width:22,height:h,fill:'url(#cbGrad)',stroke:'#000','stroke-width':3});
  
  
  cbTickLabels.forEach(v=>{
    const y = row.bottom-h*v/cbMax;
    const t = mk('line',{x1:1149,x2:1153,y1:y,y2:y,stroke:'#000','stroke-width':1});
    
    
    const l = mk('text',{x:1156,y:y+5,class:'tick'});
    l.textContent = String(v);
    
    
  });
}
drawPanel(columns[0],rows[0],heatT200,binsT200,nT200,tT200,false,true);
drawPanel(columns[1],rows[0],heatR200,binsR200,nR200,tR200,false,false);
drawPanel(columns[0],rows[1],heatT300,binsT300,nT300,tT300,false,true);
drawPanel(columns[1],rows[1],heatR300,binsR300,nR300,tR300,false,false);
drawPanel(columns[0],rows[2],heatT500,binsT500,nT500,tT500,true,true);
drawPanel(columns[1],rows[2],heatR500,binsR500,nR500,tR500,true,false);
rows.forEach(drawColorbar);
</script>
</body>
</html>
